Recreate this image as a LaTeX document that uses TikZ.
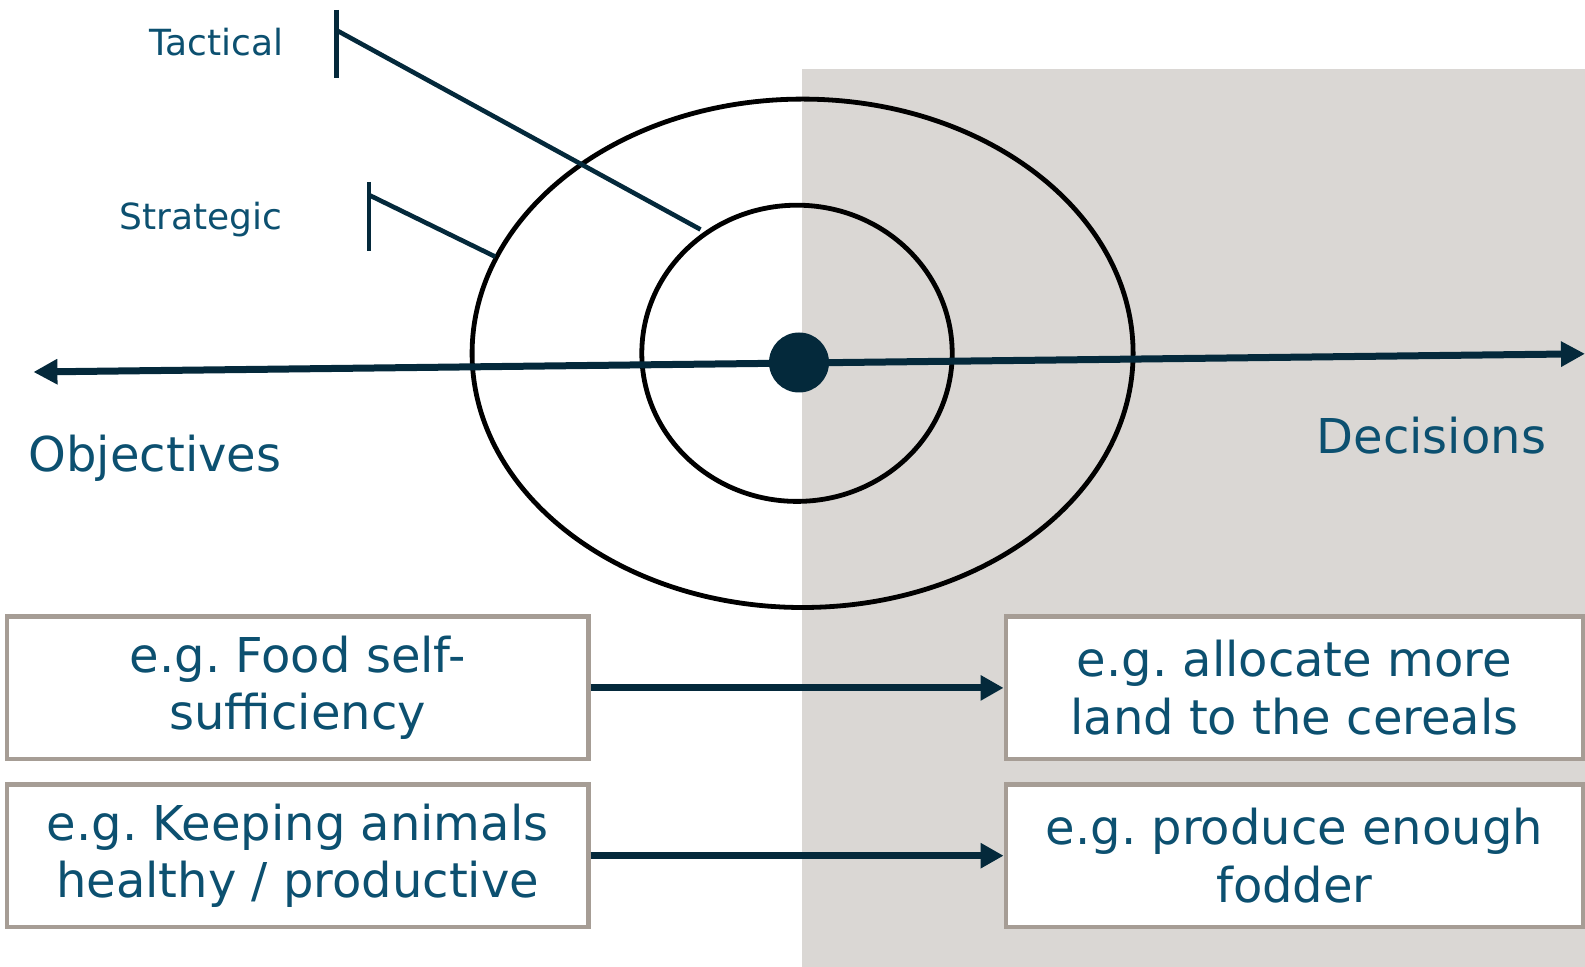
\documentclass[tikz,border=0pt]{standalone}
\usepackage{fontspec}
\setmainfont{DejaVu Sans}
\usetikzlibrary{arrows.meta}
\definecolor{txtblue}{RGB}{12,80,112}
\definecolor{navy}{RGB}{4,41,59}
\definecolor{bggrey}{RGB}{218,215,212}
\definecolor{boxgrey}{RGB}{166,157,149}
\tikzset{
  ring/.style={draw=black,line width=2.4pt},
  marker/.style={draw=navy,line width=2.3pt},
  axis/.style={draw=navy,line width=3.5pt,{Triangle[length=12pt,width=12pt]}-{Triangle[length=12pt,width=12pt]}},
  flow/.style={draw=navy,line width=3.5pt,-{Triangle[length=11.5pt,width=12pt]}},
  lbl/.style={text=txtblue,inner sep=0pt,font=\fontsize{24pt}{28.8pt}\selectfont},
  small/.style={text=txtblue,inner sep=0pt,font=\fontsize{18pt}{21.6pt}\selectfont},
  exbox/.style={draw=boxgrey,line width=2.2pt,fill=white,minimum width=290.6pt,minimum height=71.25pt,
    inner sep=0pt,align=center,text=txtblue,font=\fontsize{24pt}{28.8pt}\selectfont},
}
\begin{document}
\frenchspacing
\begin{tikzpicture}[x=0.5pt,y=-0.5pt]
\useasboundingbox (0,0) rectangle (1585,967);
\fill[bggrey] (802,69) rectangle (1585,967);
% rings
\coordinate (oc) at (802.6,353.3);
\coordinate (ic) at (797,353.3);
\draw[ring] (oc) ellipse [x radius=330.5, y radius=254.2];
\draw[ring] (ic) ellipse [x radius=155.2, y radius=148.1];
% axis
\coordinate (la) at (33.4,372);
\coordinate (ra) at (1585,353.8);
\draw[axis] (la) -- (ra);
\node[circle,fill=navy,minimum size=30pt,inner sep=0pt] (dot) at (799,362.5) {};
% markers
\coordinate (tt) at (336.6,10);
\coordinate (tb) at (336.6,78);
\coordinate (tk) at (336.6,30.3);
\coordinate (te) at (700.5,229.5);
\draw[marker] (tt) -- (tb);
\draw[marker] (tk) -- (te);
\coordinate (st) at (369,182);
\coordinate (sb) at (369,251);
\coordinate (sk) at (369,195);
\coordinate (se) at (495.3,256.7);
\draw[marker] (st) -- (sb);
\draw[marker] (sk) -- (se);
% labels
\node[small,anchor=base east] (tac) at (284,56) {Tactical};
\node[small,anchor=base east] (str) at (283,229.3) {Strategic};
\node[lbl,anchor=base west] (obj) at (28.3,471.7) {Objectives};
\node[lbl,anchor=base east] (dec) at (1546.5,454) {Decisions};
% boxes
\node[exbox] (o1) at (297.7,687.9) {e.g. Food self-\\sufficiency};
\node[exbox] (o2) at (297.7,855.7) {e.g. Keeping animals\\healthy / productive};
\node[exbox,minimum width=288.6pt] (d1) at (1294.4,687.9) {e.g. allocate more\\land to the cereals};
\node[exbox,minimum width=288.6pt] (d2) at (1294.4,855.7) {e.g. produce enough\\fodder};
\draw[flow] (o1.east) -- (d1.west);
\draw[flow] (o2.east) -- (d2.west);
\end{tikzpicture}
\end{document}
